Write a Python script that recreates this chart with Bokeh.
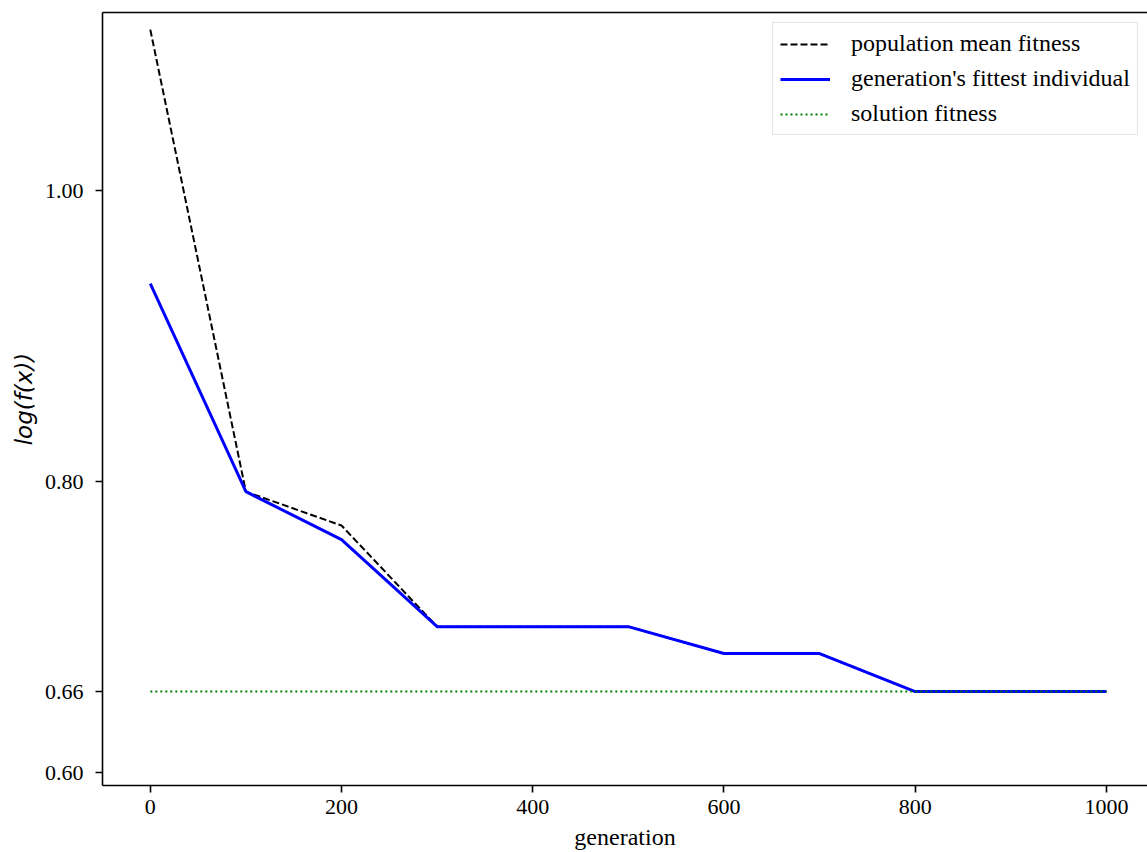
from bokeh.plotting import figure
from bokeh.models import (Range1d, FixedTicker, NumeralTickFormatter, LinearAxis,
                          Legend, LegendItem)
from bokeh.embed import file_html
from bokeh.resources import INLINE

# ---- data ----
generations = [0, 100, 200, 300, 400, 500, 600, 700, 800, 900, 1000]
mean_fitness = [1.1107, 0.7931, 0.7698, 0.7003, 0.7003, 0.7003, 0.6818, 0.6818, 0.6557, 0.6557, 0.6557]
best_fitness = [0.9361, 0.7931, 0.7601, 0.7003, 0.7003, 0.7003, 0.6818, 0.6818, 0.6557, 0.6557, 0.6557]
solution_value = 0.6557
solution_fitness = [solution_value] * len(generations)
x_ticks = [0, 200, 400, 600, 800, 1000]
y_ticks = [0.60, solution_value, 0.80, 1.00]

SERIF = "Liberation Serif"

p = figure(width=1147, height=852, output_backend="svg", toolbar_location=None,
           x_range=Range1d(-50, 1043), y_range=Range1d(0.5911, 1.1225),
           min_border_left=102, min_border_right=0, min_border_top=12, min_border_bottom=66)
p.outline_line_color = None
p.grid.visible = False
p.background_fill_color = "white"
p.border_fill_color = "white"

r_mean = p.line(generations, mean_fitness, line_color="black", line_width=2, line_dash="7 3")
r_best = p.line(generations, best_fitness, line_color="blue", line_width=3)
r_sol = p.line(generations, solution_fitness, line_color="green", line_width=2, line_dash="2 3")

for ax in (p.xaxis[0], p.yaxis[0]):
    ax.axis_line_width = 1.6
    ax.axis_line_color = "black"
    ax.major_tick_line_width = 1.6
    ax.major_tick_line_color = "black"
    ax.major_tick_out = 7
    ax.major_tick_in = 0
    ax.minor_tick_line_color = None
    ax.major_label_text_font = SERIF
    ax.major_label_text_font_size = "22px"
    ax.major_label_text_color = "black"
    ax.axis_label_text_color = "black"

p.xaxis.ticker = FixedTicker(ticks=x_ticks)
p.xaxis.axis_label = "generation"
p.xaxis.axis_label_text_font = SERIF
p.xaxis.axis_label_text_font_size = "24px"
p.xaxis.axis_label_text_font_style = "normal"
p.xaxis.major_label_standoff = 7
p.xaxis.axis_label_standoff = 7

p.yaxis.ticker = FixedTicker(ticks=y_ticks)
p.yaxis.formatter = NumeralTickFormatter(format="0.00")
p.yaxis.axis_label = "log(f(x))"
p.yaxis.axis_label_text_font = "DejaVu Sans"
p.yaxis.axis_label_text_font_size = "23px"
p.yaxis.axis_label_text_font_style = "italic"
p.yaxis.major_label_standoff = 12
p.yaxis.axis_label_standoff = 5

top = LinearAxis(ticker=FixedTicker(ticks=[]), axis_line_width=1.6, axis_line_color="black",
                 major_tick_out=0, major_tick_in=0, minor_tick_out=0, minor_tick_in=0,
                 major_label_standoff=0, major_label_text_font_size="0px")
p.add_layout(top, "above")

legend = Legend(items=[
    LegendItem(label="population mean fitness", renderers=[r_mean]),
    LegendItem(label="generation's fittest individual", renderers=[r_best]),
    LegendItem(label="solution fitness", renderers=[r_sol]),
], location=(670, 650))
legend.label_text_font = SERIF
legend.label_text_font_size = "24px"
legend.label_text_color = "black"
legend.glyph_width = 50
legend.glyph_height = 26
legend.label_height = 26
legend.spacing = 8
legend.padding = 7
legend.label_standoff = 21
legend.margin = 0
legend.border_line_color = "#cccccc"
legend.border_line_width = 1.5
legend.background_fill_alpha = 0.8
p.add_layout(legend)

open("out.html", "w").write(file_html(p, INLINE))
